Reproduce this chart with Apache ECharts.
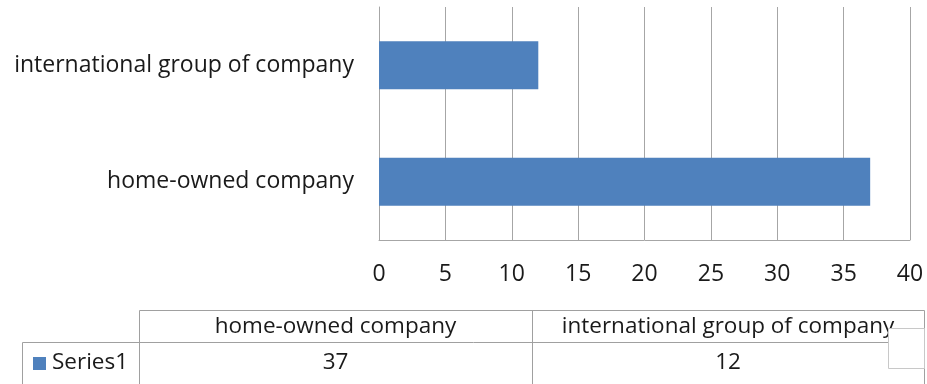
<!DOCTYPE html>
<html>
<head>
<meta charset="utf-8">
<script src="https://cdn.jsdelivr.net/npm/echarts@6/dist/echarts.min.js"></script>
<style>html,body{margin:0;padding:0;background:#fff}#c{width:927px;height:384px}</style>
</head>
<body>
<div id="c"></div>
<script>
var categories = ["home-owned company", "international group of company"];
var seriesName = "Series1";
var values = [37, 12];
var xTicks = [0, 5, 10, 15, 20, 25, 30, 35, 40];

var FONT = "'Open Sans'";
var BLUE = "#4F81BD";
var GRID = "#A6A6A6";
var TXT = "#1a1a1a";

var chart = echarts.init(document.getElementById('c'));

var tableGraphics = [];
var line = function (x1, y1, x2, y2) {
  tableGraphics.push({type: 'line', shape: {x1: x1, y1: y1, x2: x2, y2: y2},
    style: {stroke: '#A0A0A0', lineWidth: 1}, silent: true});
};
var colEdges = [139, 532, 924];
line(139.5, 310.5, 924.5, 310.5);
line(22.5, 342.5, 924.5, 342.5);
line(22.5, 342.5, 22.5, 384);
colEdges.forEach(function (x) { line(x + 0.5, 310.5, x + 0.5, 384); });
categories.forEach(function (c, i) {
  var cx = (colEdges[i] + colEdges[i + 1]) / 2;
  tableGraphics.push({type: 'text', x: cx, y: 327, silent: true,
    style: {text: c, font: '22.5px ' + FONT, fill: TXT, align: 'center', verticalAlign: 'middle'}});
  tableGraphics.push({type: 'text', x: cx, y: 363, silent: true,
    style: {text: String(values[i]), font: '22.5px ' + FONT, fill: TXT, align: 'center', verticalAlign: 'middle'}});
});
tableGraphics.push({type: 'rect', shape: {x: 33, y: 357, width: 13, height: 13}, style: {fill: BLUE}, silent: true});
tableGraphics.push({type: 'text', x: 52, y: 363, silent: true,
  style: {text: seriesName, font: '22.5px ' + FONT, fill: TXT, align: 'left', verticalAlign: 'middle'}});
tableGraphics.push({type: 'rect', shape: {x: 888.5, y: 328.5, width: 36, height: 40},
  style: {fill: '#fff', stroke: '#C8C8C8', lineWidth: 1}, silent: true});

chart.setOption({
  animation: false,
  backgroundColor: '#fff',
  grid: {left: 379, right: 17, top: 7, bottom: 144, containLabel: false},
  xAxis: {
    type: 'value', min: xTicks[0], max: xTicks[xTicks.length - 1], interval: xTicks[1] - xTicks[0],
    axisLine: {show: true, lineStyle: {color: GRID, width: 1}},
    axisTick: {show: false},
    splitLine: {show: true, lineStyle: {color: GRID, width: 1}},
    axisLabel: {color: TXT, fontFamily: FONT, fontSize: 23, margin: 23}
  },
  yAxis: {
    type: 'category', data: categories,
    axisLine: {show: true, lineStyle: {color: GRID, width: 1}},
    axisTick: {show: false},
    axisLabel: {color: TXT, fontFamily: FONT, fontSize: 23, margin: 25}
  },
  series: [{
    name: seriesName, type: 'bar', data: values, barWidth: '41%',
    itemStyle: {color: BLUE}
  }],
  graphic: tableGraphics
});
</script>
</body>
</html>
